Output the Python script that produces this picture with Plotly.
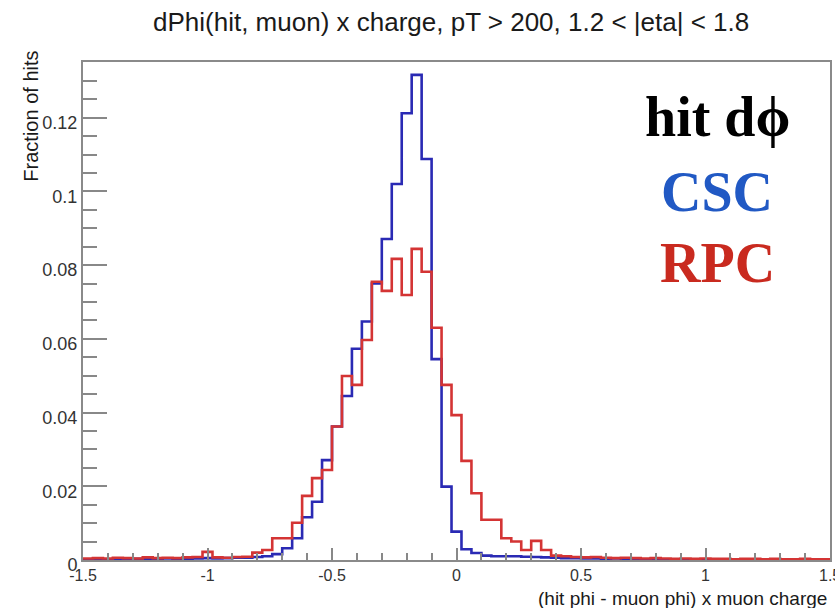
import plotly.graph_objects as go

# ---- data ----
x_min, x_max, n_bins = -1.5, 1.5, 75

csc_frac = [0.0002, 0.0003, 0.0002, 0.0003, 0.0002, 0.0003, 0.0003, 0.0002, 0.0004, 0.0003,
            0.0003, 0.0004, 0.0005, 0.0004, 0.0005, 0.0006, 0.0006,
            0.0008, 0.0010, 0.0016, 0.0032, 0.0059, 0.0116, 0.0158, 0.0271, 0.0362,
            0.0445, 0.0573, 0.0647, 0.0750, 0.0871, 0.1020, 0.1212, 0.1316, 0.1088,
            0.0545, 0.0199, 0.0077, 0.0029, 0.0019, 0.0012, 0.0010, 0.0010, 0.0010,
            0.0009, 0.0008, 0.0007, 0.0006,
            0.0005, 0.0005, 0.0004, 0.0004, 0.0003, 0.0004, 0.0003, 0.0003, 0.0002,
            0.0003, 0.0002, 0.0002, 0.0002, 0.0001, 0.0002, 0.0001, 0.0001, 0.0002,
            0.0001, 0.0001, 0.0001, 0.0001, 0.0001, 0.0001, 0.0001, 0.0001, 0.0001]

rpc_frac = [0.0004, 0.0005, 0.0004, 0.0006, 0.0005, 0.0004, 0.0007, 0.0005, 0.0006, 0.0005,
            0.0007, 0.0008, 0.0022, 0.0007, 0.0006, 0.0008, 0.0009,
            0.0020, 0.0027, 0.0059, 0.0059, 0.0101, 0.0174, 0.0222, 0.0244, 0.0362,
            0.0499, 0.0475, 0.0597, 0.0755, 0.0730, 0.0817, 0.0719, 0.0844, 0.0782,
            0.0630, 0.0475, 0.0393, 0.0269, 0.0181, 0.0109, 0.0109, 0.0059, 0.0050,
            0.0027, 0.0052, 0.0027, 0.0012,
            0.0010, 0.0008, 0.0007, 0.0008, 0.0006, 0.0005, 0.0006, 0.0005, 0.0004,
            0.0005, 0.0004, 0.0003, 0.0004, 0.0003, 0.0004, 0.0003, 0.0003, 0.0002,
            0.0003, 0.0003, 0.0002, 0.0003, 0.0002, 0.0002, 0.0003, 0.0002, 0.0002]

y_tickvals = [0, 0.02, 0.04, 0.06, 0.08, 0.10, 0.12]
y_ticktext = ["0", "0.02", "0.04", "0.06", "0.08", "0.1", "0.12"]
x_tickvals = [-1.5, -1.0, -0.5, 0.0, 0.5, 1.0]
x_ticktext = ["-1.5", "-1", "-0.5", "0", "0.5", "1"]
x_edge_tick = 1.5
x_edge_text = "1.5"

title_text = "dPhi(hit, muon) x charge, pT > 200, 1.2 < |eta| < 1.8"
x_title = "(hit phi - muon phi) x muon charge"
y_title = "Fraction of hits"

# ---- build ----
width = (x_max - x_min) / n_bins
edges = [x_min + i * width for i in range(n_bins + 1)]


def step(vals):
    return edges, list(vals) + [vals[-1]]


fig = go.Figure()
xs, ys = step(csc_frac)
fig.add_trace(go.Scatter(x=xs, y=ys, mode="lines", line=dict(color="#2a2ab4", width=2.6, shape="hv"),
                         name="CSC", hoverinfo="skip"))
xs, ys = step(rpc_frac)
fig.add_trace(go.Scatter(x=xs, y=ys, mode="lines", line=dict(color="#d43434", width=2.6, shape="hv"),
                         name="RPC", hoverinfo="skip"))

W, H = 835, 608
L, R, T, B = 83, 3, 62, 48
pw, ph = W - L - R, H - T - B


def px(xp):
    return (xp - L) / pw


def py(yp):
    return (H - B - yp) / ph


tick_font = dict(family="Liberation Sans, Arial, sans-serif", size=16, color="#333333")
fig.update_layout(
    width=W, height=H,
    margin=dict(l=L, r=R, t=T, b=B),
    paper_bgcolor="white", plot_bgcolor="white",
    showlegend=False,
    xaxis=dict(range=[x_min, x_max], tickvals=x_tickvals, ticktext=x_ticktext,
               ticks="inside", ticklen=12, tickwidth=1.5, tickcolor="#888888",
               showline=True, linecolor="#8a8a8a", linewidth=2, mirror=True,
               showgrid=False, zeroline=False, tickfont=tick_font,
               minor=dict(dtick=0.1, ticks="inside", ticklen=7, tickwidth=1.5,
                          tickcolor="#888888", showgrid=False)),
    yaxis=dict(range=[0, 0.1351], tickvals=y_tickvals, ticktext=y_ticktext,
               ticks="inside", ticklen=24, tickwidth=1.5, tickcolor="#888888",
               showline=True, linecolor="#8a8a8a", linewidth=2, mirror=True,
               showgrid=False, zeroline=False, tickfont=dict(tick_font, size=18),
               ticklabelshift=5,
               minor=dict(dtick=0.005, ticks="inside", ticklen=14, tickwidth=1.5,
                          tickcolor="#888888", showgrid=False)),
)

ann = []
ann.append(dict(text=title_text, xref="paper", yref="paper", x=px(452), y=py(22),
                xanchor="center", yanchor="middle", showarrow=False,
                font=dict(family="Liberation Sans, Arial, sans-serif", size=26, color="#1a1a1a")))
ann.append(dict(text=x_title, xref="paper", yref="paper", x=px(831), y=py(598),
                xanchor="right", yanchor="middle", showarrow=False,
                font=dict(family="Liberation Sans, Arial, sans-serif", size=19, color="#1a1a1a")))
ann.append(dict(text=y_title, xref="paper", yref="paper", x=px(31), y=py(49),
                xanchor="center", yanchor="top", textangle=-90, showarrow=False,
                font=dict(family="Liberation Sans, Arial, sans-serif", size=20, color="#1a1a1a")))
ann.append(dict(text=x_edge_text, xref="x", yref="paper", x=x_edge_tick, y=py(575),
                xanchor="center", yanchor="middle", showarrow=False, font=tick_font))
serif = "Liberation Serif, Times New Roman, serif"
for txt, yc, col in [("hit d\u03d5", 117, "#000000"), ("CSC", 192, "#2159c4"), ("RPC", 263, "#c92a1f")]:
    ann.append(dict(text="<b>" + txt + "</b>", xref="paper", yref="paper", x=px(719), y=py(yc),
                    xanchor="center", yanchor="middle", showarrow=False,
                    font=dict(family=serif, size=56, color=col)))
fig.update_layout(annotations=ann)

fig.write_html("out.html")
